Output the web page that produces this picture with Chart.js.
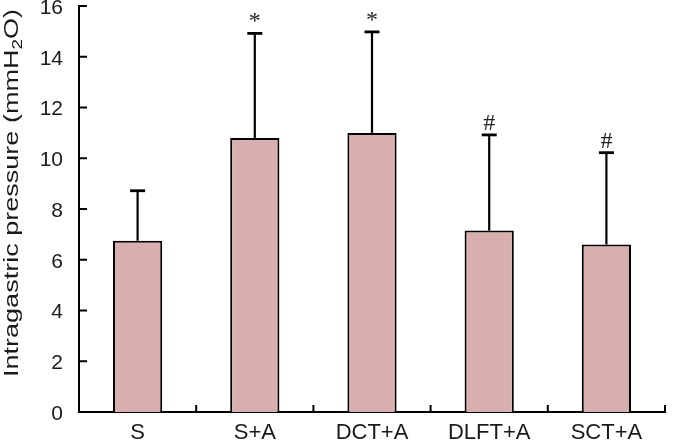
<!DOCTYPE html>
<html>
<head>
<meta charset="utf-8">
<script src="https://cdn.jsdelivr.net/npm/chart.js@4.4.1/dist/chart.umd.min.js"></script>
<style>
  html, body { margin: 0; padding: 0; background: #fff; }
  #wrap { width: 674px; height: 442px; position: relative; }
</style>
</head>
<body>
<div id="wrap"><canvas id="c" width="674" height="442"></canvas></div>
<script>
const categories = ['S', 'S+A', 'DCT+A', 'DLFT+A', 'SCT+A'];
const means = [6.75, 10.8, 11.0, 7.15, 6.6];
const sdUpper = [1.97, 4.12, 3.98, 3.77, 3.62];
const markers = ['', '*', '*', '#', '#'];
const yMin = 0, yMax = 16, yStep = 2;
const yTitleMain = 'Intragastric pressure (mmH';
const yTitleSub = '2';
const yTitleEnd = 'O)';

const FONT = '"Liberation Sans", Arial, sans-serif';

const decorPlugin = {
  id: 'decor',
  afterDatasetsDraw(chart) {
    const ctx = chart.ctx;
    const ys = chart.scales.y;
    const area = chart.chartArea;
    const meta = chart.getDatasetMeta(0);
    ctx.save();
    ctx.strokeStyle = '#000';
    // error bars
    meta.data.forEach((bar, i) => {
      const x = bar.x;
      const yTop = ys.getPixelForValue(means[i]);
      const yErr = ys.getPixelForValue(means[i] + sdUpper[i]);
      ctx.lineWidth = 2.2;
      ctx.beginPath();
      ctx.moveTo(x, yTop);
      ctx.lineTo(x, yErr);
      ctx.stroke();
      ctx.lineWidth = 2.8;
      ctx.beginPath();
      ctx.moveTo(x - 7.5, yErr);
      ctx.lineTo(x + 7.5, yErr);
      ctx.stroke();
      if (markers[i]) {
        ctx.fillStyle = '#222';
        ctx.font = '24px "Liberation Serif", "Times New Roman", serif';
        ctx.textAlign = 'center';
        ctx.textBaseline = 'alphabetic';
        ctx.fillText(markers[i], x, yErr - 5);
      }
    });
    // inward ticks on y axis
    ctx.lineWidth = 2;
    ctx.beginPath();
    for (let v = yMin + yStep; v <= yMax; v += yStep) {
      const y = ys.getPixelForValue(v);
      ctx.moveTo(area.left, y);
      ctx.lineTo(area.left + 8, y);
    }
    // inward ticks on x axis at category boundaries
    const n = categories.length;
    for (let i = 1; i <= n; i++) {
      const x = area.left + (area.right - area.left) * i / n;
      ctx.moveTo(x, area.bottom);
      ctx.lineTo(x, area.bottom - 7);
    }
    ctx.stroke();
    // y-axis title with subscript (stretched along its length like the reference)
    ctx.fillStyle = '#1a1a1a';
    const mainFont = '20px ' + FONT;
    const subFont = '14px ' + FONT;
    ctx.font = mainFont;
    const w1 = ctx.measureText(yTitleMain).width;
    const w3 = ctx.measureText(yTitleEnd).width;
    ctx.font = subFont;
    const w2 = ctx.measureText(yTitleSub).width;
    const total = w1 + w2 + w3;
    const targetLen = 368;
    ctx.translate(12, 193);
    ctx.rotate(-Math.PI / 2);
    ctx.scale(targetLen / total, 1);
    ctx.textAlign = 'left';
    ctx.textBaseline = 'middle';
    let sx = -total / 2;
    ctx.font = mainFont;
    ctx.fillText(yTitleMain, sx, 0);
    sx += w1;
    ctx.font = subFont;
    ctx.fillText(yTitleSub, sx, 6);
    sx += w2;
    ctx.font = mainFont;
    ctx.fillText(yTitleEnd, sx, 0);
    ctx.restore();
  }
};

new Chart(document.getElementById('c'), {
  type: 'bar',
  data: {
    labels: categories,
    datasets: [{
      data: means,
      backgroundColor: '#d9aeaf',
      borderColor: '#000',
      borderWidth: 2,
      borderSkipped: 'bottom',
      categoryPercentage: 1,
      barPercentage: 0.42
    }]
  },
  options: {
    responsive: false,
    animation: false,
    devicePixelRatio: 1,
    layout: { padding: { left: 0, right: 9, top: 6, bottom: 0 } },
    plugins: { legend: { display: false }, tooltip: { enabled: false } },
    scales: {
      x: {
        grid: { display: false, drawTicks: false },
        border: { display: true, color: '#000', width: 2 },
        ticks: { color: '#1a1a1a', font: { family: FONT, size: 22 }, padding: 8, maxRotation: 0 },
        afterFit(s) { s.height = 30; s.paddingLeft = 0; s.paddingRight = 0; }
      },
      y: {
        min: yMin, max: yMax,
        grid: { display: false, drawTicks: false },
        border: { display: true, color: '#000', width: 2 },
        ticks: { stepSize: yStep, color: '#1a1a1a', font: { family: FONT, size: 21 }, padding: 16, labelOffset: 2 },
        afterFit(s) { s.width = 79; s.paddingTop = 0; s.paddingBottom = 0; }
      }
    }
  },
  plugins: [decorPlugin]
});
</script>
</body>
</html>
